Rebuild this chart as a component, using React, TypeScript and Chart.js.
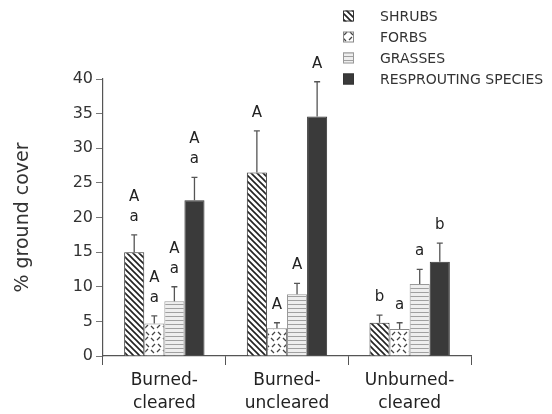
import React, { useEffect, useRef } from 'react';
import { Chart, registerables } from 'chart.js';

Chart.register(...registerables);

const categories = [['Burned-', 'cleared'], ['Burned-', 'uncleared'], ['Unburned-', 'cleared']];
const seriesNames = ['SHRUBS', 'FORBS', 'GRASSES', 'RESPROUTING SPECIES'];

const shrubs = [15.0, 26.5, 4.8];
const forbs = [4.7, 4.0, 3.9];
const grasses = [7.9, 8.9, 10.4];
const resprouting = [22.5, 34.6, 13.6];

const shrubsErr = [2.5, 6.0, 1.1];
const forbsErr = [1.1, 0.8, 0.9];
const grassesErr = [2.1, 1.6, 2.1];
const resproutingErr = [3.3, 5.0, 2.7];

// letters listed top line first
const shrubsLetters = [['A', 'a'], ['A'], ['b']];
const forbsLetters = [['A', 'a'], ['A'], ['a']];
const grassesLetters = [['A', 'a'], ['A'], ['a']];
const resproutingLetters = [['A', 'a'], ['A'], ['b']];

const yMin = 0;
const yMax = 40;
const yStep = 5;

const FONT = '"DejaVu Sans", "Liberation Sans", sans-serif';

function tile(size: number, draw: (c: CanvasRenderingContext2D) => void) {
  const cv = document.createElement('canvas');
  cv.width = size;
  cv.height = size;
  const c = cv.getContext('2d')!;
  draw(c);
  return cv;
}

export default function App() {
  const ref = useRef<HTMLCanvasElement | null>(null);

  useEffect(() => {
    const canvas = ref.current!;
    const ctx = canvas.getContext('2d')!;

    const shrubTile = tile(6, (c) => {
      c.fillStyle = '#ffffff';
      c.fillRect(0, 0, 6, 6);
      c.strokeStyle = '#222';
      c.lineWidth = 1.6;
      c.beginPath();
      c.moveTo(-1, -1); c.lineTo(7, 7);
      c.moveTo(-1, 5); c.lineTo(1, 7);
      c.moveTo(5, -1); c.lineTo(7, 1);
      c.stroke();
    });
    const forbTile = tile(12, (c) => {
      c.fillStyle = '#ffffff';
      c.fillRect(0, 0, 12, 12);
      c.strokeStyle = '#444';
      c.lineWidth = 1.3;
      c.beginPath();
      c.moveTo(1, 4); c.lineTo(4, 1);
      c.moveTo(7, 2); c.lineTo(10, 5);
      c.moveTo(2, 8); c.lineTo(5, 11);
      c.moveTo(8, 11); c.lineTo(11, 8);
      c.stroke();
    });
    const grassTile = tile(4, (c) => {
      c.fillStyle = '#eeeeee';
      c.fillRect(0, 0, 4, 4);
      c.fillStyle = '#a0a0a0';
      c.fillRect(0, 0, 4, 1);
    });

    const shrubPat = ctx.createPattern(shrubTile, 'repeat')!;
    const forbPat = ctx.createPattern(forbTile, 'repeat')!;
    const grassPat = ctx.createPattern(grassTile, 'repeat')!;

    const mk = (label: string, data: number[], errs: number[], letters: string[][], bg: any, border: string) => ({
      label,
      data,
      errs,
      letters,
      backgroundColor: bg,
      borderColor: border,
      borderWidth: 1,
      categoryPercentage: 0.655,
      barPercentage: 1.0,
    });

    const datasets: any[] = [
      mk(seriesNames[0], shrubs, shrubsErr, shrubsLetters, shrubPat, '#333'),
      mk(seriesNames[1], forbs, forbsErr, forbsLetters, forbPat, '#888'),
      mk(seriesNames[2], grasses, grassesErr, grassesLetters, grassPat, '#999'),
      mk(seriesNames[3], resprouting, resproutingErr, resproutingLetters, '#3a3a3a', '#333'),
    ];

    const errPlugin = {
      id: 'errLetters',
      afterDatasetsDraw(chart: any) {
        const c = chart.ctx;
        const y = chart.scales.y;
        chart.data.datasets.forEach((ds: any, i: number) => {
          const meta = chart.getDatasetMeta(i);
          meta.data.forEach((bar: any, j: number) => {
            const v = ds.data[j];
            const top = y.getPixelForValue(v + ds.errs[j]);
            const base = y.getPixelForValue(v);
            c.save();
            c.strokeStyle = '#555';
            c.lineWidth = 1.3;
            c.beginPath();
            c.moveTo(bar.x, base);
            c.lineTo(bar.x, top);
            c.moveTo(bar.x - 3, top);
            c.lineTo(bar.x + 3, top);
            c.stroke();
            c.fillStyle = '#222';
            c.font = `15px ${FONT}`;
            c.textAlign = 'center';
            c.textBaseline = 'middle';
            const lines: string[] = ds.letters[j];
            const n = lines.length;
            lines.forEach((t, k) => {
              const fromBottom = n - 1 - k;
              c.fillText(t, bar.x, top - 18 - fromBottom * 20);
            });
            c.restore();
          });
        });
      },
    };

    const legendPlugin = {
      id: 'customLegend',
      afterDraw(chart: any) {
        const c = chart.ctx;
        const rows = [16, 37, 58, 79];
        chart.data.datasets.forEach((ds: any, i: number) => {
          const yy = rows[i];
          c.save();
          c.fillStyle = ds.backgroundColor;
          c.fillRect(343, yy - 5.5, 11, 11);
          c.strokeStyle = ds.borderColor;
          c.lineWidth = 1;
          c.strokeRect(343.5, yy - 5, 10, 10);
          c.fillStyle = '#333';
          c.font = `14px ${FONT}`;
          c.textAlign = 'left';
          c.textBaseline = 'middle';
          c.fillText(ds.label, 380, yy + 1);
          c.restore();
        });
      },
    };

    const chart = new Chart(canvas, {
      type: 'bar',
      data: { labels: categories as any, datasets },
      plugins: [errPlugin, legendPlugin],
      options: {
        animation: false,
        responsive: false,
        layout: { padding: { top: 79, right: 81, left: 0, bottom: 0 } },
        plugins: { legend: { display: false }, tooltip: { enabled: false } },
        scales: {
          x: {
            offset: true,
            afterFit: (s: any) => { s.height = 58; },
            border: { display: true, color: '#555', width: 1.2 },
            grid: { offset: true, drawOnChartArea: false, drawTicks: true, tickLength: 9, color: '#555' },
            ticks: { color: '#222', font: { family: FONT, size: 17, lineHeight: 1.35 }, padding: 4, maxRotation: 0 },
          },
          y: {
            min: yMin,
            max: yMax,
            afterFit: (s: any) => { s.width = 103; },
            border: { display: true, color: '#555', width: 1.2 },
            grid: { drawOnChartArea: false, drawTicks: true, tickLength: 7, color: '#777' },
            ticks: { stepSize: yStep, color: '#333', font: { family: FONT, size: 16 }, padding: 3 },
            title: {
              display: true,
              text: '% ground cover',
              color: '#333',
              font: { family: FONT, size: 19 },
              padding: { top: 12, bottom: 0 },
            },
          },
        },
      },
    });
    return () => chart.destroy();
  }, []);

  return (
    <div style={{ position: 'fixed', left: 0, top: 0, width: 552, height: 414, background: '#fff' }}>
      <canvas ref={ref} width={552} height={414} style={{ display: 'block', width: 552, height: 414 }} />
    </div>
  );
}
